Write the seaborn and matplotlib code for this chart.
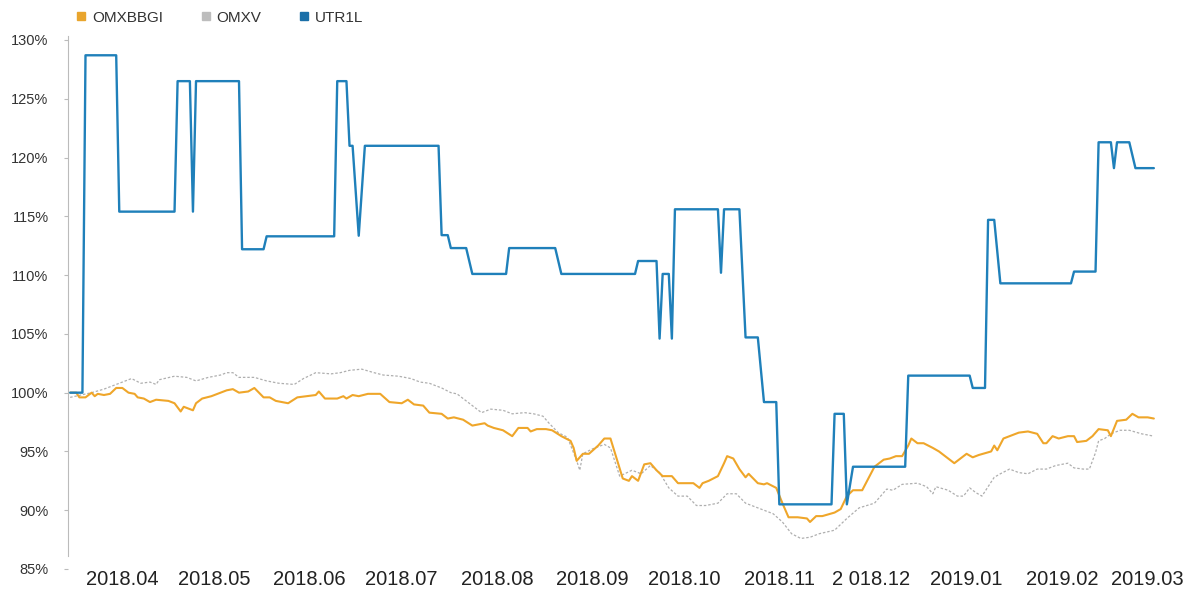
import pandas as pd
import numpy as np
import matplotlib
matplotlib.use('Agg')
import matplotlib.pyplot as plt
from matplotlib.lines import Line2D
import seaborn as sns

# day offsets are counted from the first trading day shown
start_date = '2018-03-29'

# UTR1L - stepwise price index (%)
utr_days = [0, 4, 5, 15, 16, 34, 35, 39, 40, 41, 55, 56, 63, 64, 86, 87, 90, 91, 92, 94, 96,
            120, 121, 123, 124, 129, 131, 142, 143, 158, 160, 184, 185, 191, 192, 193, 195, 196, 197,
            211, 212, 213, 218, 220, 224, 226, 230, 231, 248, 249, 252, 253, 255, 272, 273, 293, 294,
            298, 299, 301, 303, 326, 327, 334, 335, 339, 340, 341, 345, 347, 353]
utr_vals = [100.0, 100.0, 128.7, 128.7, 115.4, 115.4, 126.5, 126.5, 115.4, 126.5, 126.5, 112.2, 112.2,
            113.3, 113.3, 126.5, 126.5, 121.0, 121.0, 113.35, 121.0,
            121.0, 113.4, 113.4, 112.3, 112.3, 110.1, 110.1, 112.3, 112.3, 110.1, 110.1, 111.2, 111.2,
            104.6, 110.1, 110.1, 104.6, 115.6,
            115.6, 110.2, 115.6, 115.6, 104.7, 104.7, 99.2, 99.2, 90.5, 90.5, 98.2, 98.2, 90.5, 93.7,
            93.7, 101.45, 101.45, 100.4,
            100.4, 114.7, 114.7, 109.3, 109.3, 110.3, 110.3, 121.3, 121.3, 119.1, 121.3, 121.3, 119.1, 119.1]

# OMXBBGI (%)
bbgi_days = [0, 2, 3, 5, 7, 8, 9, 11, 13, 15, 17, 19, 21, 22, 24, 26, 28, 32, 34, 36, 37, 38, 40, 41,
             43, 46, 48, 51, 53, 55, 58, 60, 63, 65, 67, 71, 74, 77, 80, 81, 83, 87, 89, 90, 92, 94,
             97, 101, 104, 108, 110, 112, 115, 117, 121, 123, 125, 128, 131, 135, 136, 138, 141, 144,
             146, 149, 150, 152, 155, 157, 160, 163, 164, 165, 167, 169, 172, 174, 176, 178, 180, 182,
             183, 185, 187, 189, 191, 193, 196, 198, 201, 203, 205, 206, 208, 211, 213, 214, 216, 218,
             220, 221, 224, 226, 227, 230, 232, 234, 237, 240, 241, 243, 245, 249, 251, 253, 255, 258,
             260, 262, 265, 267, 269, 271, 273, 274, 276, 278, 281, 283, 286, 288, 290, 292, 294, 296,
             300, 301, 302, 304, 306, 309, 312, 315, 317, 318, 320, 322, 325, 327, 328, 331, 333, 335,
             338, 339, 341, 344, 346, 348, 351, 353]
bbgi_vals = [100.0, 100.0, 99.6, 99.6, 100.0, 99.7, 99.9, 99.8, 99.9, 100.4, 100.4, 100.0, 99.9, 99.6,
             99.5, 99.2, 99.4, 99.3, 99.1, 98.4, 98.8, 98.7, 98.5, 99.1,
             99.5, 99.7, 99.9, 100.2, 100.3, 100.0, 100.1, 100.4, 99.6, 99.6, 99.3, 99.1, 99.6, 99.7,
             99.8, 100.1, 99.5, 99.5, 99.7, 99.5, 99.8, 99.7,
             99.9, 99.9, 99.2, 99.1, 99.4, 99.0, 98.9, 98.3, 98.2, 97.8, 97.9, 97.7, 97.2, 97.4, 97.2,
             97.0, 96.8, 96.3,
             97.0, 97.0, 96.7, 96.9, 96.9, 96.8, 96.3, 95.9, 95.3, 94.2, 94.8, 94.8, 95.5, 96.1, 96.1,
             94.4, 92.7, 92.5,
             92.9, 92.5, 93.9, 94.0, 93.4, 92.9, 92.9, 92.3, 92.3, 92.3, 91.9, 92.3, 92.5, 92.9, 94.0,
             94.6, 94.4, 93.5,
             92.8, 93.1, 92.3, 92.2, 92.3, 91.9, 90.6, 89.4, 89.4, 89.3, 89.0, 89.5, 89.5, 89.8, 90.1,
             91.2, 91.7, 91.7,
             92.7, 93.7, 94.3, 94.4, 94.6, 94.6, 95.5, 96.1, 95.7, 95.7, 95.3, 95.0, 94.4, 94.0, 94.4,
             94.8, 94.5, 94.7,
             95.0, 95.5, 95.1, 96.1, 96.3, 96.6, 96.7, 96.5, 95.7, 95.7, 96.3, 96.1, 96.3, 96.3, 95.8,
             95.9, 96.3, 96.9,
             96.8, 96.3, 97.6, 97.7, 98.2, 97.9, 97.9, 97.8]

# OMXV (%)
omxv_days = [0, 7, 11, 15, 20, 23, 26, 28, 29, 34, 38, 41, 45, 49, 51, 53, 55, 60, 64, 68, 73, 76,
             80, 85, 88, 91, 95, 99, 102, 107, 111, 114, 117, 121, 124, 126, 128, 130, 134, 137, 141,
             144, 148, 151, 154, 156, 159, 162, 165, 166, 167, 170, 174, 176, 179, 183, 186, 189, 192,
             195, 198, 201, 204, 207, 211, 214, 217, 220, 225, 229, 232, 235, 238, 241, 244, 249, 253,
             257, 262, 264, 266, 268, 271, 276, 279, 281, 282, 286, 289, 291, 293, 295, 297, 301, 303,
             306, 309, 312, 315, 318, 321, 325, 327, 330, 332, 334, 335, 337, 339, 342, 345, 349, 353]
omxv_vals = [99.6, 100.0, 100.3, 100.7, 101.2, 100.8, 100.9, 100.7, 101.1, 101.4, 101.3, 101.0, 101.3,
             101.5, 101.7, 101.7, 101.3, 101.3, 101.0, 100.8, 100.7, 101.2,
             101.7, 101.6, 101.7, 101.9, 102.0, 101.7, 101.5, 101.4, 101.2, 100.9, 100.8, 100.4, 100.0,
             99.9, 99.5, 99.1, 98.3, 98.6, 98.5,
             98.2, 98.3, 98.2, 98.0, 97.4, 96.6, 96.2, 94.2, 93.4, 94.8, 95.2, 95.6, 95.3, 92.9, 93.4,
             93.1, 93.8, 93.2,
             91.9, 91.2, 91.2, 90.4, 90.4, 90.6, 91.4, 91.4, 90.6, 90.1, 89.7, 89.0, 88.0, 87.6, 87.7,
             88.0, 88.3, 89.3,
             90.2, 90.6, 91.2, 91.8, 91.7, 92.2, 92.3, 92.0, 91.4, 92.0, 91.7, 91.2, 91.2, 91.9, 91.5,
             91.2, 92.8, 93.1,
             93.5, 93.2, 93.1, 93.5, 93.5, 93.8, 94.0, 93.6, 93.5, 93.5, 94.9, 95.9, 96.1, 96.5, 96.8,
             96.8, 96.5, 96.3]

tick_dates = ['2018-04-15', '2018-05-15', '2018-06-15', '2018-07-15', '2018-08-15', '2018-09-15',
              '2018-10-15', '2018-11-15', '2018-12-15', '2019-01-15', '2019-02-15', '2019-03-15']
tick_labels = ['2018.04', '2018.05', '2018.06', '2018.07', '2018.08', '2018.09',
               '2018.10', '2018.11', '2 018.12', '2019.01', '2019.02', '2019.03']
y_ticks = [85, 90, 95, 100, 105, 110, 115, 120, 125, 130]

series_names = ['OMXBBGI', 'OMXV', 'UTR1L']
colors = {'OMXBBGI': '#EFA62A', 'OMXV': '#AFAFAF', 'UTR1L': '#1F80BA'}
legend_colors = {'OMXBBGI': '#E9A52D', 'OMXV': '#BDBDBD', 'UTR1L': '#1A6FA8'}

t0 = pd.Timestamp(start_date)


def to_frame(days, vals, name):
    return pd.DataFrame({'date': t0 + pd.to_timedelta(days, unit='D'),
                         'value': vals, 'series': name})


bbgi = to_frame(bbgi_days, bbgi_vals, 'OMXBBGI')
omxv = to_frame(omxv_days, omxv_vals, 'OMXV')
utr = to_frame(utr_days, utr_vals, 'UTR1L')

sns.set_style('white')
plt.rcParams['font.family'] = ['Liberation Sans', 'DejaVu Sans']

fig = plt.figure(figsize=(11.96, 5.90), dpi=100)
ax = fig.add_axes([68 / 1196, 1 - 569 / 590, (1160 - 68) / 1196, (569 - 40) / 590])

sns.lineplot(data=omxv, x='date', y='value', ax=ax, color=colors['OMXV'], lw=0.9,
             linestyle=(0, (2, 1.5)), sort=False, estimator=None)
sns.lineplot(data=bbgi, x='date', y='value', ax=ax, color=colors['OMXBBGI'], lw=1.5,
             sort=False, estimator=None)
sns.lineplot(data=utr, x='date', y='value', ax=ax, color=colors['UTR1L'], lw=1.7,
             sort=False, estimator=None)

ax.set_xlim(t0 - pd.Timedelta(days=0.7), t0 + pd.Timedelta(days=355))
ax.set_ylim(85, 130)
ax.set_yticks(y_ticks)
ax.set_yticklabels([f'{v}%' for v in y_ticks], fontsize=10.5, color='#333333')
ax.set_xticks(pd.to_datetime(tick_dates))
ax.set_xticklabels(tick_labels, fontsize=14.5, color='#222222')
ax.tick_params(axis='x', length=0, pad=1)
ax.tick_params(axis='y', left=True, length=3, width=0.8, color='#BBBBBB', pad=11)
ax.set_xlabel('')
ax.set_ylabel('')
for side in ['top', 'right', 'bottom']:
    ax.spines[side].set_visible(False)
ax.spines['left'].set_color('#BBBBBB')
ax.spines['left'].set_linewidth(0.8)
ax.spines['left'].set_bounds(86.1, 130.3)
ax.grid(False)

handles = [Line2D([], [], marker='s', linestyle='none', markersize=6,
                  color=legend_colors[n]) for n in series_names]
fig.legend(handles, series_names, loc='upper left', bbox_to_anchor=(60 / 1196, 1 + 3 / 590),
           ncol=3, frameon=False, fontsize=11, handletextpad=0.2, handlelength=1.0,
           columnspacing=2.3, labelcolor='#333333')

fig.savefig('out.png', dpi=100)
